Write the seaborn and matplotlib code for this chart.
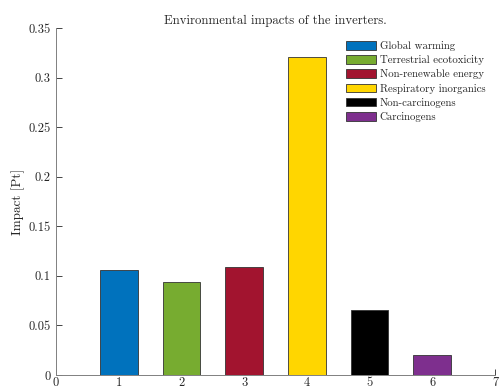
import matplotlib
matplotlib.use("Agg")
import matplotlib.pyplot as plt
import seaborn as sns
import pandas as pd

categories = ["Global warming", "Terrestrial ecotoxicity", "Non-renewable energy",
              "Respiratory inorganics", "Non-carcinogens", "Carcinogens"]
positions = [1, 2, 3, 4, 5, 6]
values = [0.106, 0.094, 0.109, 0.321, 0.066, 0.020]
colors = ["#0072BD", "#77AC30", "#A2142F", "#FFD600", "#000000", "#7E2F8E"]

sns.set_theme(style="white")
plt.rcParams["font.family"] = ["serif"]
plt.rcParams["font.serif"] = ["cmr10", "DejaVu Serif"]
plt.rcParams["axes.formatter.use_mathtext"] = True

df = pd.DataFrame({"pos": positions, "val": values, "cat": categories})

fig = plt.figure(figsize=(5.02, 3.89), dpi=100)
ax = fig.add_axes([56/502, 14/389, (495-56)/502, (375-28)/389])
sns.barplot(data=df, x="pos", y="val", hue="cat", hue_order=categories,
            palette=colors, native_scale=True, width=0.6, dodge=False,
            edgecolor="#333333", linewidth=0.6, ax=ax, saturation=1)

ax.set_xlim(0, 7)
ax.set_ylim(0, 0.35)
ax.set_xticks(range(0, 8))
ax.set_xticklabels([str(i) for i in range(0, 8)])
yt = [0, 0.05, 0.1, 0.15, 0.2, 0.25, 0.3, 0.35]
ax.set_yticks(yt)
ax.set_yticklabels(["0", "0.05", "0.1", "0.15", "0.2", "0.25", "0.3", "0.35"])
ax.tick_params(direction="in", length=4, width=0.6, colors="#262626", labelsize=9,
               left=True, bottom=True)
ax.tick_params(axis="x", pad=1.5)
ax.tick_params(axis="y", pad=4)
for s in ["top", "right"]:
    ax.spines[s].set_visible(False)
for s in ["left", "bottom"]:
    ax.spines[s].set_color("#808080")
    ax.spines[s].set_linewidth(0.7)
ax.set_xlabel("")
ax.set_ylabel("Impact [Pt]", fontsize=9.5, color="#262626", labelpad=2)
ax.set_title("Environmental impacts of the inverters.", fontsize=9.2, color="#262626", pad=3)

leg = ax.legend(loc="upper left", bbox_to_anchor=(0.65, 0.975), frameon=False,
                fontsize=7.8, handlelength=2.8, handleheight=0.85,
                labelspacing=0.38, handletextpad=0.35, borderaxespad=0.0)
fig.savefig("out.png", dpi=100)
